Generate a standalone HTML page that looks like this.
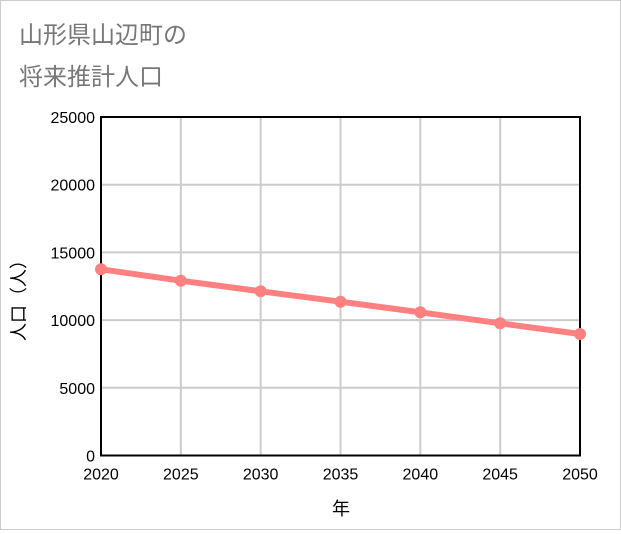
<!DOCTYPE html>
<html><head><meta charset="utf-8"><style>
body{margin:0;background:#fff;}
#wrap{position:relative;width:619px;height:528px;border:1px solid #ccc;background:#fff;font-family:"Liberation Sans","Noto Sans CJK JP",sans-serif;}
</style></head><body>
<div id="wrap">
<svg id="chart" width="619" height="528"></svg>
</div>
<script>
const years=[2020,2025,2030,2035,2040,2045,2050];
const population=[13752,12910,12127,11359,10576,9764,8973];
const yTicks=[0,5000,10000,15000,20000,25000];
const ns="http://www.w3.org/2000/svg";
const svg=document.getElementById('chart');
const L=100,R=579,T=116,B=454.5;
const xs=v=>L+(v-2020)/30*(R-L);
const ys=v=>B-v/25000*(B-T);
function mk(tag,attrs,parent){const e=document.createElementNS(ns,tag);for(const k in attrs)e.setAttribute(k,attrs[k]);(parent||svg).appendChild(e);return e;}
const t1=mk('text',{x:18,y:42,'font-size':24,fill:'#777'});t1.textContent='山形県山辺町の';


const t2=mk('text',{x:18,y:84,'font-size':24,fill:'#777'});t2.textContent='将来推計人口';


yTicks.forEach(v=>{
 const g=mk('line',{x1:L,x2:R,y1:ys(v),y2:ys(v),stroke:'#ccc','stroke-width':2});
 
 
 const t=mk('text',{x:L-6,y:ys(v)+6,'font-size':16,'text-anchor':'end',fill:'#000'});t.textContent=v;
 
 
});
years.forEach(v=>{
 const g=mk('line',{x1:xs(v),x2:xs(v),y1:T,y2:B,stroke:'#ccc','stroke-width':2});
 
 
 const t=mk('text',{x:xs(v),y:B+24,'font-size':16,'text-anchor':'middle',fill:'#000'});t.textContent=v;
 
 
});
const f=mk('rect',{x:L,y:T,width:R-L,height:B-T,fill:'none',stroke:'#000','stroke-width':2});


const pl=mk('polyline',{points:years.map((y,i)=>xs(y)+','+ys(population[i])).join(' '),fill:'none',stroke:'#ff8080','stroke-width':6});


years.forEach((y,i)=>{
 const c=mk('circle',{cx:xs(y),cy:ys(population[i]),r:6,fill:'#ff8080'});
 
 
});
const xt=mk('text',{x:340,y:514,'font-size':18,'text-anchor':'middle',fill:'#000'});xt.textContent='年';


const yt=mk('text',{x:0,y:0,'font-size':18,'text-anchor':'middle',fill:'#000',transform:'translate(24,295) rotate(-90)'});yt.textContent='人口（人）';


</script>
</body></html>
